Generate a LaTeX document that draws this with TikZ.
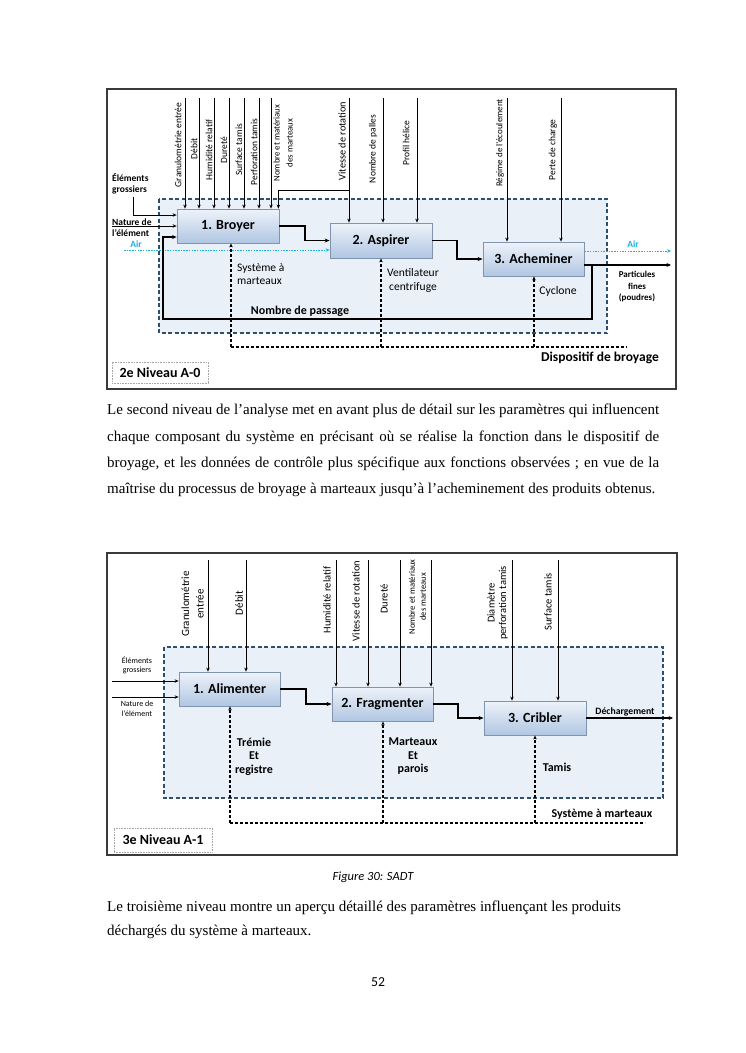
\documentclass[tikz,border=0pt]{standalone}
\usepackage{fontspec}
\setmainfont{Liberation Serif}
\newfontfamily\calib{Carlito}
\usetikzlibrary{arrows.meta}
\newcommand\fsz[2]{\fontsize{#1}{#2}\selectfont}
\definecolor{boxdraw}{HTML}{8094AE}
\definecolor{boxtop}{HTML}{EEF3FA}
\definecolor{boxbot}{HTML}{B0C6E2}
\definecolor{zonefill}{HTML}{E9F0F8}
\definecolor{zonedraw}{HTML}{2F4F6F}
\definecolor{aircol}{HTML}{1CB0E0}
\definecolor{framecol}{HTML}{3A3A3A}
\begin{document}
\begin{tikzpicture}[x=1pt,y=-1pt,
  framebox/.style={draw=framecol,line width=1.3pt},
  zone/.style={draw=zonedraw,fill=zonefill,line width=1.1pt,dash pattern=on 4pt off 2.5pt},
  box/.style={draw=boxdraw,line width=0.8pt,top color=boxtop,bottom color=boxbot,inner sep=0pt,font=\calib\bfseries\fsz{14}{16}},
  ctl/.style={-{Stealth[length=4pt,width=3.5pt]},line width=0.8pt},
  flow/.style={-{Stealth[length=5pt,width=4pt]},line width=1.5pt},
  fb/.style={-{Stealth[length=4.5pt,width=4pt]},line width=1.3pt},
  mech/.style={-{Stealth[length=4pt,width=3.5pt]},line width=1.2pt,dash pattern=on 3pt off 2pt},
  mline/.style={line width=1.2pt,dash pattern=on 3pt off 2pt},
  air/.style={-{Stealth[length=4pt,width=3.5pt]},draw=aircol,line width=1pt,dash pattern=on 1.5pt off 1.2pt},
  tl/.style={rotate=90,inner sep=0pt,align=center,font=\calib\fsz{9.5}{11}},
  bl/.style={rotate=90,inner sep=0pt,align=center,font=\calib\fsz{10.5}{13}},
  txt/.style={inner sep=0pt,align=center},
  lvl/.style={draw=gray!70,densely dotted,line width=0.6pt,inner sep=0pt,font=\calib\bfseries\fsz{14}{16}},
  body/.style={anchor=base west,inner sep=0pt,font=\fsz{15}{18}}
]
\useasboundingbox (0,0) rectangle (745,1053);
\fill[white] (0,0) rectangle (745,1053);

% ================= TOP DIAGRAM =================
\draw[framebox] (107,89) rectangle (676,389);
\draw[zone] (159,199) rectangle (607,333);

\node[box,minimum width=102pt,minimum height=34pt] (b1) at (228,226) {1. Broyer};
\node[box,minimum width=102pt,minimum height=35pt] (b2) at (381,240.5) {2. Aspirer};
\node[box,minimum width=101pt,minimum height=34pt] (b3) at (533.5,259) {3. Acheminer};

% controls
\foreach \x [count=\i] in {185,199,214,229,244,259,271}{
  \coordinate (ta\i) at (\x,98);
  \draw[ctl] (ta\i) -- (ta\i |- b1.north);
}
\coordinate (tv) at (349,98);
\draw[ctl] (tv) -- (tv |- b2.north);
\coordinate (tvb) at (349,190);
\draw[ctl] (tvb) -| ([xshift=-1pt]b1.north east);
\coordinate (tp) at (383,98);
\draw[ctl] (tp) -- (tp |- b2.north);
\coordinate (th) at (417,98);
\draw[ctl] (th) -- (th |- b2.north);
\coordinate (tr) at (507,98);
\draw[ctl] (tr) -- (tr |- b3.north);
\coordinate (tc) at (561,98);
\draw[ctl] (tc) -- (tc |- b3.north);

\node[tl] (la1) at (178,145) {Granulométrie entrée};
\node[tl] (la2) at (194,149) {Débit};
\node[tl] (la3) at (209,150) {Humidité relatif};
\node[tl] (la4) at (224,150) {Dureté};
\node[tl] (la5) at (239,150) {Surface tamis};
\node[tl] (la6) at (254,152) {Perforation tamis};
\node[tl,font=\calib\fsz{8.8}{13}] (la7) at (283,143) {Nombre et matériaux\\des marteaux};
\node[tl,font=\calib\fsz{10.3}{12}] (lv) at (342,141) {Vitesse de rotation};
\node[tl] (lp) at (373,149) {Nombre de palles};
\node[tl] (lh) at (406,143) {Profil hélice};
\node[tl,font=\calib\fsz{9}{11}] (lr) at (500,143) {Régime de l’écoulement};
\node[tl] (lc) at (553,150) {Perte de charge};

% inputs
\node[txt,anchor=west,align=left,font=\calib\bfseries\fsz{9.5}{10.5}] (ie) at (112,184) {Éléments\\grossiers};
\coordinate (ie1) at (133,197);
\coordinate (ie2) at (133,215);
\draw[ctl] (ie1) -- (ie2) -- (ie2 -| b1.west);
\node[txt,anchor=west,align=left,font=\calib\bfseries\fsz{9.5}{10.5}] (in) at (112,227.5) {Nature de\\l’élément};
\coordinate (in1) at (112,226);
\draw[ctl] (in1) -- (b1.west);

% air
\coordinate (a0) at (124,250);
\draw[air] (a0) -- (a0 -| b2.west);
\coordinate (a1) at (0,251);
\coordinate (a2) at (671,251);
\draw[air] (b3.east |- a1) -- (a2);
\node[txt,text=aircol,font=\calib\bfseries\fsz{9.5}{11}] (lair1) at (136,244) {Air};
\node[txt,text=aircol,font=\calib\bfseries\fsz{9.5}{11}] (lair2) at (633,244) {Air};

% flows
\coordinate (k1) at (305,0);
\draw[flow] (b1.east) -- (b1.east -| k1) |- (b2.west);
\coordinate (k2) at (457,0);
\draw[flow] (b2.east) -- (b2.east -| k2) |- (b3.west);

% output + feedback
\coordinate (y265) at (0,265);
\coordinate (pout) at (671,265);
\draw[fb] (b3.east |- y265) -- (pout);
\coordinate (fb1) at (592,265);
\coordinate (fb2) at (163,319);
\coordinate (y237) at (0,237);
\draw[fb] (fb1) |- (fb2) |- (b1.west |- y237);
\node[txt,font=\calib\bfseries\fsz{9}{11.5}] (lpart) at (637,287) {Particules\\fines\\(poudres)};
\node[txt,font=\calib\bfseries\fsz{12}{14}] (lnp) at (300,311) {Nombre de passage};

% mechanisms
\coordinate (m1) at (231,347);
\coordinate (m2) at (381,347);
\coordinate (m3) at (534,347);
\coordinate (mend) at (627,347);
\draw[mline] (m1) -- (mend);
\draw[mech] (m1) -- (m1 |- b1.south);
\draw[mech] (m2) -- (m2 |- b2.south);
\draw[mech] (m3) -- (m3 |- b3.south);
\node[txt,anchor=west,align=left,font=\calib\fsz{11.5}{13}] (ls1) at (237,274.5) {Système à\\marteaux};
\node[txt,font=\calib\fsz{11.5}{14}] (ls2) at (413,280) {Ventilateur\\centrifuge};
\node[txt,font=\calib\fsz{11.7}{14}] (ls3) at (558,291) {Cyclone};
\node[txt,font=\calib\bfseries\fsz{13.5}{16}] (ldisp) at (600,358) {Dispositif de broyage};

\node[lvl,minimum width=96pt,minimum height=21pt] (lvl1) at (160,372.5) {2e Niveau A-0};

% ================= TEXT 1 =================
\node[body] (p1) at (107,414) {\makebox[552pt][s]{Le second niveau de l’analyse met en avant plus de détail sur les paramètres qui influencent}};
\node[body] (p2) at (107,441) {\makebox[552pt][s]{chaque composant du système en précisant où se réalise la fonction dans le dispositif de}};
\node[body] (p3) at (107,467) {\makebox[552pt][s]{broyage, et les données de contrôle plus spécifique aux fonctions observées ; en vue de la}};
\node[body] (p4) at (107,493) {maîtrise du processus de broyage à marteaux jusqu’à l’acheminement des produits obtenus.};

% ================= BOTTOM DIAGRAM =================
\draw[framebox] (107,553) rectangle (677,855);
\draw[zone] (164,647) rectangle (663,798);

\node[box,minimum width=101pt,minimum height=34pt] (B1) at (229.5,689) {1. Alimenter};
\node[box,minimum width=101pt,minimum height=34pt] (B2) at (382.5,704) {2. Fragmenter};
\node[box,minimum width=102pt,minimum height=34pt] (B3) at (535,718) {3. Cribler};

\foreach \x [count=\i] in {208,246}{
  \coordinate (tb\i) at (\x,560);
  \draw[ctl] (tb\i) -- (tb\i |- B1.north);
}
\foreach \x [count=\i] in {336,368,400,431}{
  \coordinate (tf\i) at (\x,560);
  \draw[ctl] (tf\i) -- (tf\i |- B2.north);
}
\foreach \x [count=\i] in {512,558}{
  \coordinate (tk\i) at (\x,560);
  \draw[ctl] (tk\i) -- (tk\i |- B3.north);
}
\node[bl,font=\calib\fsz{11}{14.5}] (lb1) at (192.5,604) {Granulométrie\\entrée};
\node[bl,font=\calib\fsz{11}{13}] (lb2) at (239,603) {Débit};
\node[bl] (lb3) at (327,600) {Humidité relatif};
\node[bl] (lb4) at (356,601) {Vitesse de rotation};
\node[bl] (lb5) at (384,599) {Dureté};
\node[bl,font=\calib\fsz{8.6}{11}] (lb6) at (417.5,597) {Nombre et matériaux\\des marteaux};
\node[bl,font=\calib\fsz{10.5}{11.5}] (lb7) at (497.5,603) {Diamètre\\perforation tamis};
\node[bl] (lb8) at (548,602) {Surface tamis};

% inputs
\node[txt,font=\calib\fsz{8}{9.5}] (ibe) at (137,665.5) {Éléments\\grossiers};
\coordinate (ib1) at (112,681);
\draw[ctl] (ib1) -- (ib1 -| B1.west);
\node[txt,font=\calib\fsz{8}{9.5}] (ibn) at (137,708.5) {Nature de\\l’élément};
\coordinate (ib2) at (112,697);
\draw[ctl] (ib2) -- (ib2 -| B1.west);

% flows
\coordinate (K1) at (306,0);
\draw[flow] (B1.east) -- (B1.east -| K1) |- (B2.west);
\coordinate (K2) at (458,0);
\draw[flow] (B2.east) -- (B2.east -| K2) |- (B3.west);
\coordinate (dout) at (673,0);
\draw[fb] (B3.east) -- (B3.east -| dout);
\node[txt,font=\calib\bfseries\fsz{9.7}{11}] (ldech) at (625,712) {Déchargement};

% mechanisms
\coordinate (M1) at (230,823);
\coordinate (M2) at (383,823);
\coordinate (M3) at (535,823);
\coordinate (Mend) at (645,823);
\draw[mline] (M1) -- (Mend);
\draw[mech] (M1) -- (M1 |- B1.south);
\draw[mech] (M2) -- (M2 |- B2.south);
\draw[mech] (M3) -- (M3 |- B3.south);
\node[txt,font=\calib\bfseries\fsz{12}{13.5}] (lm1) at (254,756.5) {Trémie\\Et\\registre};
\node[txt,font=\calib\bfseries\fsz{12}{13.5}] (lm2) at (413,756.5) {Marteaux\\Et\\parois};
\node[txt,font=\calib\bfseries\fsz{12}{14}] (lm3) at (557,767) {Tamis};
\node[txt,font=\calib\bfseries\fsz{12}{14}] (lsm) at (602,814) {Système à marteaux};

\node[lvl,minimum width=98pt,minimum height=24pt] (lvl2) at (163,840) {3e Niveau A-1};

% ================= CAPTION + TEXT 2 =================
\node[txt,font=\calib\itshape\fsz{12.5}{14}] (cap) at (373,877) {Figure 30: SADT};
\node[body] (q1) at (107,911) {Le troisième niveau montre un aperçu détaillé des paramètres influençant les produits};
\node[body] (q2) at (107,935) {déchargés du système à marteaux.};
\node[txt,font=\calib\fsz{13.7}{16}] (pg) at (378,982) {52};
\end{tikzpicture}
\end{document}
